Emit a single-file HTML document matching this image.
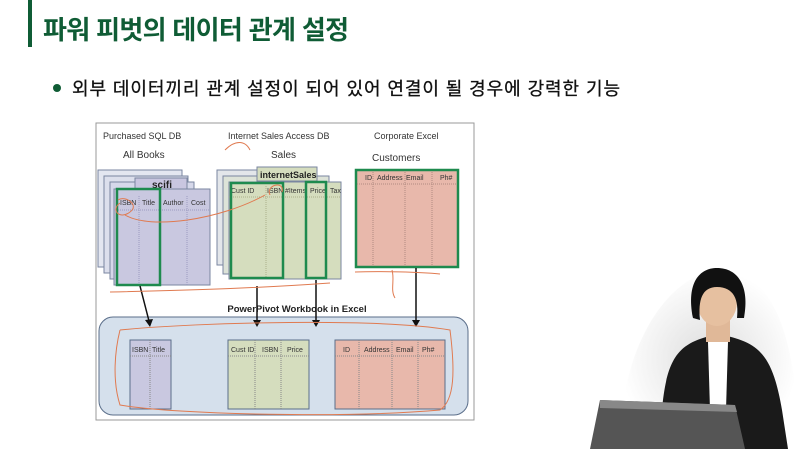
<!DOCTYPE html><html><head><meta charset="utf-8"><style>
html,body{margin:0;padding:0;width:798px;height:449px;overflow:hidden}
body{background:#fff;position:relative;font-family:"Liberation Sans","Noto Sans CJK KR",sans-serif}
svg{display:block;overflow:hidden}
</style></head><body>
<svg width="798" height="449" viewBox="0 0 798 449" style="position:absolute;left:0;top:0" font-family="Liberation Sans, Noto Sans CJK KR, sans-serif">
<defs>
<radialGradient id="sh" cx="0.5" cy="0.5" r="0.5"><stop offset="0" stop-color="#ddd"/><stop offset="1" stop-color="#fff"/></radialGradient>
</defs>
<rect x="28" y="0" width="4" height="47" fill="#0f5c35"/>
<text x="43" y="39" font-size="26" font-weight="bold" fill="#0f5c35" textLength="306">파워 피벗의 데이터 관계 설정</text>
<circle cx="57" cy="88" r="4" fill="#0f5c35"/>
<text x="72" y="95" font-size="18" fill="#111" stroke="#111" stroke-width="0.3" textLength="548">외부 데이터끼리 관계 설정이 되어 있어 연결이 될 경우에 강력한 기능</text>
<rect x="96" y="123" width="378" height="297" fill="#fff" stroke="#999"/>
<g font-size="9" fill="#333">
<text x="103" y="139">Purchased SQL DB</text>
<text x="228" y="139">Internet Sales Access DB</text>
<text x="374" y="139">Corporate Excel</text>
<text x="123" y="158" font-size="10">All Books</text>
<text x="271" y="158" font-size="10">Sales</text>
<text x="372" y="161" font-size="10">Customers</text>
</g>
<g stroke="#7a86a0" stroke-width="1">
<rect x="98" y="170" width="84" height="97" fill="#e3e6f0"/>
<rect x="104" y="176" width="84" height="97" fill="#dcdfec"/>
<rect x="110" y="182" width="84" height="97" fill="#d6d8ea"/>
<rect x="135" y="178" width="52" height="13" fill="#c9c6e0"/>
<rect x="114" y="189" width="96" height="96" fill="#c9c8e0"/>
</g>
<text x="152" y="188" font-size="10" font-weight="bold" fill="#222">scifi</text>
<g font-size="7" fill="#333"><text x="120" y="205">ISBN</text><text x="142" y="205">Title</text><text x="163" y="205">Author</text><text x="191" y="205">Cost</text></g>
<g stroke="#9a9ac0" stroke-dasharray="1,1"><line x1="139" y1="196" x2="139" y2="285"/><line x1="160" y1="196" x2="160" y2="285"/><line x1="187" y1="196" x2="187" y2="285"/><line x1="114" y1="210" x2="210" y2="210"/></g>
<rect x="117" y="189" width="43" height="96" fill="none" stroke="#1e8a4e" stroke-width="2.5"/>
<g stroke="#7a86a0">
<rect x="217" y="170" width="100" height="95" fill="#e3e6ea"/>
<rect x="223" y="176" width="106" height="98" fill="#dde3d8"/>
<rect x="229" y="182" width="112" height="97" fill="#d5ddbe"/>
<rect x="257" y="167" width="60" height="14" fill="#d5ddbe"/>
</g>
<text x="260" y="178" font-size="9" font-weight="bold" fill="#222">internetSales</text>
<g font-size="7" fill="#333"><text x="231" y="193">Cust ID</text><text x="267" y="193">ISBN</text><text x="285" y="193">#Items</text><text x="310" y="193">Price</text><text x="330" y="193">Tax</text></g>
<g stroke="#aab08a" stroke-dasharray="1,1"><line x1="266" y1="186" x2="266" y2="278"/><line x1="283" y1="186" x2="283" y2="278"/><line x1="306" y1="186" x2="306" y2="278"/><line x1="229" y1="197" x2="341" y2="197"/></g>
<rect x="231" y="183" width="52" height="95" fill="none" stroke="#1e8a4e" stroke-width="2.5"/>
<rect x="306" y="182" width="20" height="96" fill="none" stroke="#1e8a4e" stroke-width="2.5"/>
<rect x="356" y="170" width="102" height="97" fill="#e8b8ab" stroke="#1e8a4e" stroke-width="2.5"/>
<g font-size="7" fill="#333"><text x="365" y="180">ID</text><text x="377" y="180">Address</text><text x="406" y="180">Email</text><text x="440" y="180">Ph#</text></g>
<g stroke="#b08a80" stroke-dasharray="1,1"><line x1="373" y1="172" x2="373" y2="266"/><line x1="405" y1="172" x2="405" y2="266"/><line x1="432" y1="172" x2="432" y2="266"/><line x1="357" y1="184" x2="457" y2="184"/></g>
<text x="297" y="312" font-size="9.5" font-weight="bold" fill="#222" text-anchor="middle">PowerPivot Workbook in Excel</text>
<rect x="99" y="317" width="369" height="98" rx="14" fill="#d5e0ec" stroke="#5a6e8a"/>
<g stroke="#111" stroke-width="1.5">
<line x1="140" y1="286" x2="149" y2="321"/>
<line x1="257" y1="286" x2="257" y2="321"/>
<line x1="316" y1="280" x2="316" y2="321"/>
<line x1="416" y1="268" x2="416" y2="321"/>
</g>
<g fill="#111">
<polygon points="145,320 153,319 150,327"/><polygon points="253,320 261,320 257,327"/><polygon points="312,320 320,320 316,327"/><polygon points="412,320 420,320 416,327"/>
</g>
<rect x="130" y="340" width="41" height="69" fill="#c9c8e0" stroke="#5a6e8a"/>
<rect x="228" y="340" width="81" height="69" fill="#d5ddbe" stroke="#5a6e8a"/>
<rect x="335" y="340" width="110" height="69" fill="#e8b8ab" stroke="#5a6e8a"/>
<g font-size="7" fill="#333">
<text x="132" y="352">ISBN</text><text x="152" y="352">Title</text>
<text x="231" y="352">Cust ID</text><text x="262" y="352">ISBN</text><text x="287" y="352">Price</text>
<text x="343" y="352">ID</text><text x="364" y="352">Address</text><text x="396" y="352">Email</text><text x="422" y="352">Ph#</text>
</g>
<g stroke="#888" stroke-dasharray="1,1"><line x1="150" y1="340" x2="150" y2="409"/><line x1="255" y1="340" x2="255" y2="409"/><line x1="281" y1="340" x2="281" y2="409"/><line x1="359" y1="340" x2="359" y2="409"/><line x1="392" y1="340" x2="392" y2="409"/><line x1="418" y1="340" x2="418" y2="409"/>
<line x1="130" y1="356" x2="171" y2="356"/><line x1="228" y1="356" x2="309" y2="356"/><line x1="335" y1="356" x2="445" y2="356"/></g>
<g fill="none" stroke="#e07a50" stroke-width="1">
<path d="M120,203 C110,210 120,220 130,212 C140,205 125,195 118,200"/>
<path d="M125,215 C150,230 220,220 265,195"/>
<path d="M270,195 C265,185 285,180 282,192"/>
<path d="M110,292 C200,290 260,288 330,283"/>
<path d="M120,330 C200,322 380,318 450,330 C455,370 455,400 440,410 C350,418 180,415 120,405 C112,380 115,350 120,330"/>
<path d="M395,298 C390,290 395,280 392,270"/>
<path d="M355,272 C380,271 420,272 440,274"/>
<path d="M225,150 C235,140 245,140 250,150"/>
</g>
<path d="M620,449 C620,330 680,270 720,270 C770,270 798,330 798,449 Z" fill="url(#sh)"/>
<path d="M662,410 C667,352 682,342 718,334 C758,342 772,352 782,410 L788,449 L658,449 Z" fill="#1a1a1a"/>
<path d="M708,342 L728,342 L726,410 L710,410 Z" fill="#fff"/>
<rect x="706" y="318" width="24" height="24" fill="#e0b898"/>
<ellipse cx="717" cy="302" rx="20" ry="24" fill="#e6c0a0"/>
<path d="M693,318 C686,282 700,268 717,268 C738,268 750,286 744,318 L737,318 C739,300 734,287 717,287 C702,287 698,300 700,320 Z" fill="#111"/>
<path d="M600,400 L735,405 L745,449 L590,449 Z" fill="#555"/>
<path d="M600,400 L735,405 L737,412 L600,408 Z" fill="#888"/>
</svg>
</body></html>
